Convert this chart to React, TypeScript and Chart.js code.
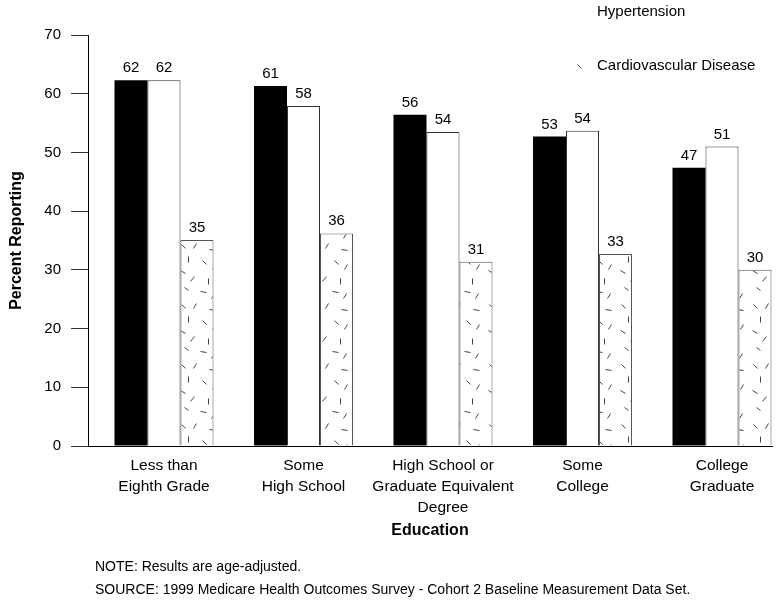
import React, { useEffect, useRef } from "react";
import { Chart, registerables } from "chart.js";

Chart.register(...registerables);

// ---------- data ----------
const categories: string[][] = [
  ["Less than", "Eighth Grade"],
  ["Some", "High School"],
  ["High School or", "Graduate Equivalent", "Degree"],
  ["Some", "College"],
  ["College", "Graduate"],
];
const seriesNames = ["Arthritis", "Hypertension", "Cardiovascular Disease"];
const arthritis = [62.3, 61.3, 56.4, 52.7, 47.4];
const hypertension = [62.3, 57.9, 53.5, 53.7, 51.0];
const cardiovascular = [35.1, 36.2, 31.4, 32.7, 30.0];
const yTicks = [0, 10, 20, 30, 40, 50, 60, 70];
const noteLines = [
  "NOTE: Results are age-adjusted.",
  "SOURCE: 1999 Medicare Health Outcomes Survey - Cohort 2 Baseline Measurement Data Set.",
];

const FONT = '"Liberation Sans", Arial, Helvetica, sans-serif';

// short dashes used for the speckled fill [x, y, dx, dy]
const dashes: number[][] = [
  [5, 4, 4, 4], [20, 3, -3, 5], [33, 9, 6, 1], [12, 16, 0, 6],
  [26, 20, 4, 4], [39, 24, -3, 5], [4, 30, 5, 3], [18, 36, -4, 5],
  [32, 38, 0, 6], [8, 47, 4, 3], [24, 51, 6, 1], [38, 53, -3, 5],
];

function makePattern(): CanvasPattern | string {
  const c = document.createElement("canvas");
  c.width = 44;
  c.height = 60;
  const g = c.getContext("2d");
  if (!g) return "#fff";
  g.fillStyle = "#fff";
  g.fillRect(0, 0, 44, 60);
  g.strokeStyle = "#444";
  g.lineWidth = 1;
  for (const [x, y, dx, dy] of dashes) {
    g.beginPath();
    g.moveTo(x + 0.5, y + 0.5);
    g.lineTo(x + dx + 0.5, y + dy + 0.5);
    g.stroke();
  }
  return g.createPattern(c, "repeat") || "#fff";
}

const valueLabels = {
  id: "valueLabels",
  afterDatasetsDraw(chart: any) {
    const ctx = chart.ctx;
    ctx.save();
    ctx.font = `15px ${FONT}`;
    ctx.fillStyle = "#000";
    ctx.textAlign = "center";
    ctx.textBaseline = "alphabetic";
    chart.data.datasets.forEach((ds: any, di: number) => {
      const meta = chart.getDatasetMeta(di);
      meta.data.forEach((bar: any, i: number) => {
        const v = ds.data[i].y;
        ctx.fillText(String(Math.round(v)), bar.x, bar.y - 8);
      });
    });
    ctx.restore();
  },
};

const customLegend = {
  id: "customLegend",
  afterDraw(chart: any) {
    const ctx = chart.ctx;
    ctx.save();
    chart.data.datasets.forEach((ds: any, i: number) => {
      const cy = -42 + i * 54;
      ctx.fillStyle = ds.backgroundColor;
      ctx.fillRect(576, cy - 6, 12, 12);
      ctx.fillStyle = "#000";
      ctx.font = `15px ${FONT}`;
      ctx.textAlign = "left";
      ctx.textBaseline = "middle";
      ctx.fillText(ds.label, 597, cy);
    });
    ctx.restore();
  },
};

const notes = {
  id: "notes",
  afterDraw(chart: any) {
    const ctx = chart.ctx;
    ctx.save();
    ctx.font = `14px ${FONT}`;
    ctx.fillStyle = "#000";
    ctx.textAlign = "left";
    ctx.textBaseline = "middle";
    noteLines.forEach((t, i) => ctx.fillText(t, 95, 567 + i * 23));
    ctx.restore();
  },
};

export default function App() {
  const ref = useRef<HTMLCanvasElement | null>(null);

  useEffect(() => {
    if (!ref.current) return;
    const pattern = makePattern();
    const toPts = (arr: number[]) => arr.map((y, x) => ({ x, y }));
    const chart = new Chart(ref.current, {
      type: "bar",
      data: {
        datasets: [
          {
            label: seriesNames[0],
            data: toPts(arthritis),
            backgroundColor: "#000",
            borderWidth: 0,
          },
          {
            label: seriesNames[1],
            data: toPts(hypertension),
            backgroundColor: "#fff",
            borderColor: "#333",
            borderWidth: 1,
          },
          {
            label: seriesNames[2],
            data: toPts(cardiovascular),
            backgroundColor: pattern as any,
            borderColor: "#555",
            borderWidth: 1,
          },
        ],
      },
      options: {
        responsive: false,
        animation: false,
        layout: { padding: { top: 35, right: 12, bottom: 0, left: 0 } },
        datasets: { bar: { categoryPercentage: 0.7097, barPercentage: 1 } },
        plugins: { legend: { display: false }, tooltip: { enabled: false } },
        scales: {
          x: {
            type: "linear",
            min: -0.5448,
            max: 4.3584,
            bounds: "data",
            offset: false,
            z: 1,
            afterBuildTicks: (s: any) => {
              s.ticks = categories.map((_, i) => ({ value: i }));
            },
            afterFit: (s: any) => {
              s.height = 156;
            },
            grid: { display: false, drawTicks: false, offset: false },
            border: { display: true, color: "#000", width: 1 },
            ticks: {
              autoSkip: false,
              maxRotation: 0,
              minRotation: 0,
              padding: 9,
              color: "#000",
              font: { family: FONT, size: 15.5, lineHeight: 1.35 },
              callback: (v: any) => categories[v] ?? "",
            },
            title: {
              display: true,
              text: "Education",
              color: "#000",
              font: { family: FONT, size: 16, weight: "bold" },
              padding: { top: 0, bottom: 62 },
            },
          },
          y: {
            min: 0,
            max: 70,
            afterBuildTicks: (s: any) => {
              s.ticks = yTicks.map((v) => ({ value: v }));
            },
            afterFit: (s: any) => {
              s.width = 88;
            },
            grid: {
              display: true,
              drawOnChartArea: false,
              drawTicks: true,
              tickLength: 17,
              color: "#333",
            },
            border: { display: true, color: "#000", width: 1 },
            ticks: {
              padding: 10,
              color: "#000",
              font: { family: FONT, size: 15 },
            },
            title: {
              display: true,
              text: "Percent Reporting",
              color: "#000",
              font: { family: FONT, size: 16, weight: "bold" },
              padding: { top: 7, bottom: 0 },
            },
          },
        },
      } as any,
      plugins: [valueLabels, customLegend, notes],
    });
    return () => chart.destroy();
  }, []);

  return (
    <div
      style={{
        position: "absolute",
        left: 0,
        top: 0,
        width: 784,
        height: 602,
        background: "#fff",
      }}
    >
      <canvas ref={ref} width={784} height={602} style={{ display: "block" }} />
    </div>
  );
}
